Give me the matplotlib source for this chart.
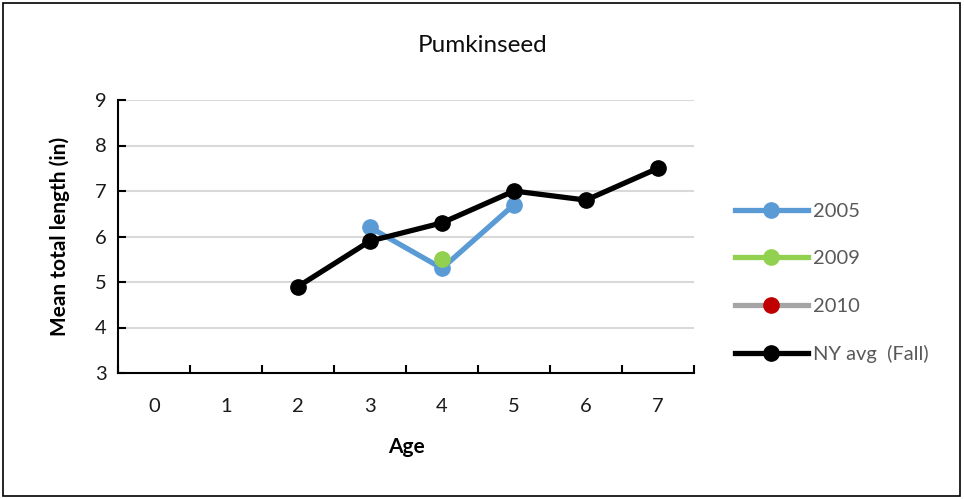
import numpy as np
import matplotlib.pyplot as plt
from matplotlib.patches import Rectangle

plt.rcParams['font.family'] = ['Lato', 'DejaVu Sans']

ages = [0, 1, 2, 3, 4, 5, 6, 7]
age_2005 = [3, 4, 5]
len_2005 = [6.2, 5.3, 6.7]
age_2009 = [4]
len_2009 = [5.5]
age_2010 = []
len_2010 = []
age_ny = [2, 3, 4, 5, 6, 7]
len_ny = [4.9, 5.9, 6.3, 7.0, 6.8, 7.5]

TEXT = '#1a1a1a'

fig = plt.figure(figsize=(9.64, 4.99), dpi=100)
ax = fig.add_axes([118 / 964, 1 - 373 / 499, 576 / 964, 273 / 499])

# outer frame around the whole chart
fig.patches.append(Rectangle((3 / 964, 3 / 499), 957 / 964, 493 / 499,
                             transform=fig.transFigure, fill=False,
                             edgecolor='black', linewidth=1.2))

lw, ms = 3.8, 11
ax.plot(age_2005, len_2005, '-o', color='#5b9bd5', lw=lw, ms=ms, label='2005', zorder=3)
ax.plot(age_2009, len_2009, '-o', color='#92d050', lw=lw, ms=ms, label='2009', zorder=4)
ax.plot(age_2010, len_2010, '-o', color='#a5a5a5', mfc='#c00000', mec='#c00000',
        lw=lw, ms=ms, label='2010', zorder=3)
ax.plot(age_ny, len_ny, '-o', color='black', lw=lw, ms=ms, label='NY avg  (Fall)', zorder=5)

ax.set_xlim(-0.5, 7.5)
ax.set_ylim(3, 9)
ax.set_yticks(range(3, 10))
ax.set_xticks(ages)
ax.set_xticks(np.arange(-0.5, 8, 1), minor=True)
ax.tick_params(axis='x', which='major', length=0, pad=18, labelsize=14.5, labelcolor=TEXT)
ax.tick_params(axis='x', which='minor', length=6, width=1.5, direction='in')
ax.tick_params(axis='y', length=6, width=1.5, direction='in', pad=8, labelsize=14.5, labelcolor=TEXT)

ax.grid(axis='y', color='#d9d9d9', lw=1.5)
ax.set_axisbelow(True)
for s in ['top', 'right']:
    ax.spines[s].set_visible(False)
for s in ['left', 'bottom']:
    ax.spines[s].set_linewidth(1.5)

ax.set_xlabel('Age', fontsize=15, fontweight='bold', labelpad=16)
ax.set_ylabel('Mean total length (in)', fontsize=15, fontweight='bold', labelpad=18)
fig.text(483 / 964, 1 - 45 / 499, 'Pumkinseed', ha='center', va='center', fontsize=17.5, color='#0d0d0d')

leg = ax.legend(loc='center left', bbox_to_anchor=(1.04, 0.33), frameon=False,
                handlelength=3.6, labelspacing=1.5, handletextpad=0.25, fontsize=14.5)
for t in leg.get_texts():
    t.set_color('#595959')

fig.savefig('out.png', dpi=100)
